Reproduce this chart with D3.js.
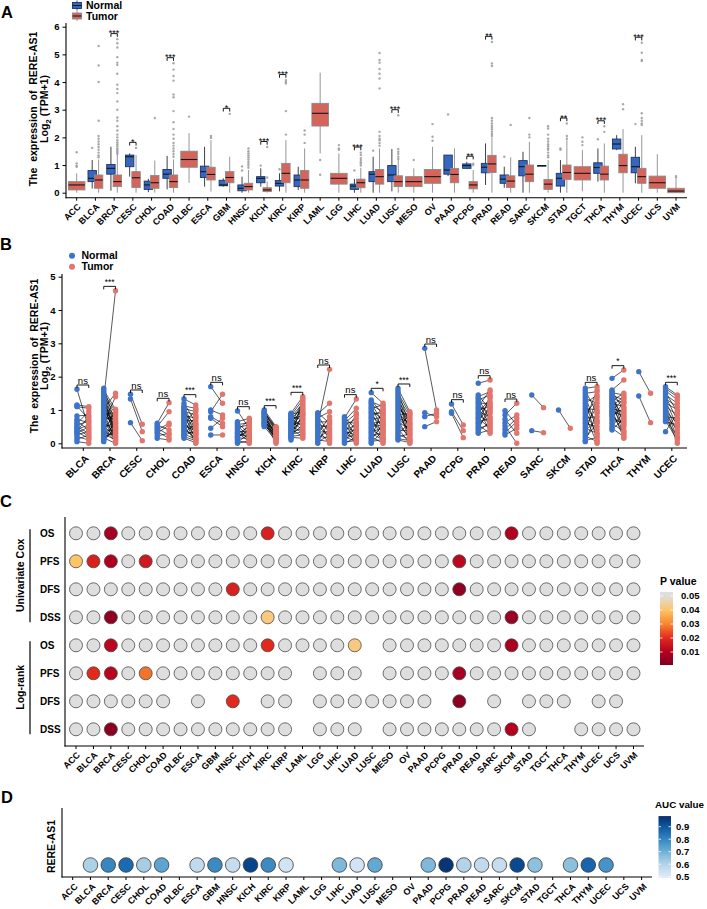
<!DOCTYPE html>
<html><head><meta charset="utf-8">
<script src="https://cdn.jsdelivr.net/npm/d3@7"></script>
<style>
body{margin:0;background:#fff;}
svg{font-family:"Liberation Sans",Arial,sans-serif;font-weight:bold;}
</style></head><body>
<svg id="chart" width="707" height="909"></svg>
<script>
// ---------------- DATA ----------------
const categoriesA = ["ACC","BLCA","BRCA","CESC","CHOL","COAD","DLBC","ESCA","GBM","HNSC","KICH","KIRC","KIRP","LAML","LGG","LIHC","LUAD","LUSC","MESO","OV","PAAD","PCPG","PRAD","READ","SARC","SKCM","STAD","TGCT","THCA","THYM","UCEC","UCS","UVM"];
// box stats: [whiskerLow, q1, median, q3, whiskerHigh]
const normalBoxA = [null,[0.15,0.40,0.52,0.80,1.18],[0.07,0.67,0.88,1.02,1.66],[0.58,0.94,1.30,1.36,1.42],[0.02,0.12,0.28,0.42,0.50],[0.12,0.52,0.67,0.84,1.33],null,[0.22,0.55,0.76,0.96,1.66],[0.22,0.25,0.28,0.45,0.52],[0.00,0.07,0.16,0.28,0.58],[0.22,0.36,0.52,0.58,0.88],[0.05,0.24,0.34,0.44,0.70],[0.10,0.22,0.46,0.64,0.94],null,null,[0.00,0.12,0.24,0.31,0.50],[0.00,0.40,0.67,0.76,1.30],[0.05,0.40,0.64,0.98,1.58],null,null,[0.60,0.67,0.82,1.36,1.36],[0.88,0.88,0.98,1.04,1.12],[0.28,0.72,0.92,1.06,1.78],[0.18,0.34,0.49,0.64,0.94],[0.00,0.61,0.94,1.16,1.48],[0.98,0.98,0.98,0.98,0.98],[0.00,0.24,0.52,0.70,1.18],null,[0.40,0.70,0.91,1.08,1.60],[1.54,1.58,1.76,1.94,2.08],[0.34,0.72,0.94,1.28,1.66],null,null];
const tumorBoxA = [[0,0.10,0.28,0.40,0.70],[0,0.16,0.46,0.64,1.20],[0,0.22,0.40,0.64,1.36],[0,0.19,0.54,0.76,1.36],[0,0.16,0.36,0.62,1.16],[0,0.19,0.40,0.64,1.20],[0.36,0.92,1.20,1.50,2.15],[0.04,0.46,0.66,0.92,1.90],[0,0.36,0.55,0.76,1.30],[0,0.10,0.22,0.34,0.82],[0,0.04,0.10,0.18,0.40],[0,0.36,0.70,1.06,1.90],[0,0.16,0.46,0.80,1.60],[1.42,2.41,2.87,3.23,4.34],[0,0.31,0.52,0.70,1.42],[0,0.18,0.36,0.49,0.90],[0,0.31,0.58,0.84,1.60],[0,0.22,0.40,0.61,1.18],[0,0.22,0.40,0.58,0.88],[0,0.34,0.58,0.84,1.66],[0,0.36,0.66,0.88,1.60],[0,0.14,0.28,0.40,0.82],[0,0.73,1.04,1.35,2.00],[0,0.19,0.42,0.61,1.28],[0,0.40,0.67,1.00,1.84],[0,0.12,0.31,0.48,1.18],[0,0.48,0.73,1.00,1.90],[0.05,0.46,0.70,0.94,1.54],[0,0.46,0.67,0.96,1.78],[0,0.72,0.98,1.39,2.30],[0,0.34,0.58,0.88,2.08],[0,0.16,0.36,0.60,1.39],[0,0.00,0.06,0.16,0.50]];
const normalOutA = [[],[1.62],[],[],[],[],[],[],[],[0.95,0.80],[0.98],[0.85],[],[],[],[0.80],[1.52],[],[],[],[2.83],[],[],[1.30],[],[],[1.60,1.55],[],[1.93],[],[2.48],[],[]];
const tumorOutA = [[1.46,1.06,0.98,0.94],[5.30,4.60,4.00,2.60,2.05,1.95,1.85,1.75,1.65,1.55,1.45,1.35,1.28],[5.55,5.40,5.25,4.90,4.70,4.62,4.30,3.90,3.75,3.60,3.30,3.00,2.72,2.60,2.40,2.25,2.10,2.00,1.90,1.82,1.75,1.68,1.60,1.55,1.50,1.45,1.40],[1.62],[2.70],[4.68,4.45,4.22,4.05,3.55,3.45,2.95,2.55,2.30,2.10,1.95,1.80,1.70,1.60,1.50,1.40,1.30],[2.75],[2.05,1.98],[2.85],[1.60,1.50,1.42,1.35,1.28,1.20,1.12,1.05,0.98,0.90],[1.65,0.55],[4.07,4.00,3.95,2.95,2.10],[2.25,2.10,1.80],[1.18,0.65],[1.72,1.60,1.55],[1.45,1.36,1.25,1.18,1.10,1.05,0.98],[5.05,4.80,4.70,4.47,4.30,4.13,3.77,2.20,2.05,1.95,1.90,1.80,1.70],[2.80,1.58,1.48,1.40,1.30,1.22],[1.18],[2.48,2.02,1.88],[],[1.05,1.00],[5.45,4.67,4.58,2.70,2.60,2.50,2.42,2.35,2.28,2.20,2.12,2.05],[2.45],[2.70,2.10,2.00],[2.40,2.32,2.10,1.95,1.85,1.75,1.68,1.60,1.55,1.45,1.35,1.28],[2.50,2.05,1.95],[2.00,1.84,1.72],[2.40,2.20],[3.20,3.02],[5.42,5.06,4.80,4.76,2.87,2.70,2.60,2.50,2.45],[],[0.60,0.55]];
const sigA = ["","","***","*","","***","","","*","","***","***","","","","***","","***","","","","**","**","","","","**","","***","","***","",""];
const yTicksA = [0,1,2,3,4,5,6];

const categoriesB = ["BLCA","BRCA","CESC","CHOL","COAD","ESCA","HNSC","KICH","KIRC","KIRP","LIHC","LUAD","LUSC","PAAD","PCPG","PRAD","READ","SARC","SKCM","STAD","THCA","THYM","UCEC"];
const pairedNormalB = [
 [1.62,1.15,1.12,1.10,0.82,0.72,0.66,0.60,0.55,0.50,0.46,0.42,0.38,0.34,0.30,0.26,0.20,0.12,0.05],
 [1.65,1.60,1.55,1.50,1.45,1.40,1.36,1.32,1.28,1.24,1.20,1.16,1.12,1.08,1.04,1.00,0.96,0.92,0.88,0.84,0.80,0.76,0.72,0.68,0.64,0.60,0.56,0.52,0.48,0.44,0.40,0.36,0.32,0.28,0.24,0.20,0.16,0.12,0.08,0.05],
 [1.47,1.33,0.62],
 [0.60,0.55,0.50,0.45,0.40,0.35,0.30,0.22,0.15],
 [1.33,1.20,1.12,1.08,1.04,1.00,0.96,0.92,0.88,0.84,0.80,0.76,0.72,0.68,0.64,0.60,0.56,0.52,0.48,0.44,0.40,0.36,0.32,0.28,0.24,0.20,0.15],
 [1.70,1.00,0.95,0.80,0.75,0.45,0.25],
 [0.97,0.65,0.60,0.56,0.52,0.48,0.44,0.40,0.36,0.32,0.28,0.24,0.20,0.16,0.12,0.08,0.04,0.00,0.30,0.18],
 [1.00,0.97,0.94,0.91,0.88,0.85,0.82,0.79,0.76,0.73,0.70,0.67,0.64,0.61,0.58,0.55,0.52,0.50,0.90,0.80,0.60],
 [0.90,0.87,0.84,0.81,0.78,0.75,0.72,0.69,0.66,0.63,0.60,0.57,0.54,0.51,0.48,0.45,0.42,0.39,0.36,0.33,0.30,0.27,0.24,0.21,0.18,0.15,0.10],
 [0.55,0.92,0.88,0.82,0.76,0.70,0.64,0.58,0.52,0.46,0.40,0.34,0.28,0.22,0.16,0.10,0.04,0.00],
 [0.80,0.76,0.72,0.68,0.64,0.60,0.56,0.52,0.48,0.44,0.40,0.36,0.32,0.28,0.24,0.20,0.16,0.12,0.08,0.04,0.00],
 [1.52,1.30,1.25,1.20,1.15,1.10,1.05,1.00,0.95,0.90,0.85,0.80,0.75,0.70,0.65,0.60,0.55,0.50,0.45,0.40,0.35,0.30,0.25,0.20,0.15,0.10,0.05,0.00],
 [1.65,1.58,1.52,1.46,1.40,1.34,1.28,1.22,1.16,1.10,1.04,0.98,0.92,0.86,0.80,0.74,0.68,0.62,0.56,0.50,0.44,0.38,0.32,0.26,0.20,0.14,0.10],
 [2.85,0.92,0.80,0.50],
 [1.18,0.95,0.90],
 [1.80,1.45,1.40,1.35,1.30,1.25,1.20,1.15,1.10,1.05,1.00,0.95,0.90,0.85,0.80,0.75,0.70,0.65,0.60,0.55,0.50,0.45,0.40,0.35,0.30],
 [0.98,0.85,0.72,0.62,0.52,0.42,0.32,0.25],
 [1.45,0.38],
 [1.00],
 [1.65,1.58,1.50,1.42,1.35,1.28,1.20,1.12,1.05,0.98,0.90,0.82,0.75,0.68,0.60,0.52,0.45,0.38,0.30,0.22,0.15,0.08,0.05],
 [1.95,1.60,1.56,1.52,1.48,1.44,1.40,1.36,1.32,1.28,1.24,1.20,1.16,1.12,1.08,1.04,1.00,0.96,0.92,0.88,0.84,0.80,0.74,0.68,0.60,0.52,0.45,0.40],
 [2.15,1.42],
 [1.70,1.64,1.58,1.52,1.46,1.40,1.34,1.28,1.22,1.16,1.10,1.04,0.98,0.92,0.86,0.80,0.74,0.68,0.65,0.35]
];
const pairedTumorB = [
 [0.45,1.10,0.72,1.05,0.85,0.62,0.40,0.95,0.66,0.30,0.20,0.55,0.80,0.15,0.50,0.35,0.10,0.25,0.00],
 [0.60,1.02,0.45,0.95,0.30,0.88,0.20,4.58,0.35,0.80,0.12,0.70,0.50,0.25,1.50,0.40,0.65,0.08,0.92,0.55,0.15,0.75,0.02,0.85,0.28,1.40,0.48,0.18,0.62,0.05,0.38,1.00,0.22,0.10,0.58,0.32,0.00,0.42,0.68,0.52],
 [0.57,0.35,0.08],
 [1.22,0.40,0.95,0.25,0.60,0.15,0.55,0.30,0.10],
 [1.15,0.62,1.05,0.40,0.95,0.25,0.85,0.55,0.10,0.75,0.45,0.30,0.00,0.68,0.20,1.00,0.35,0.05,0.50,0.15,0.80,0.28,0.58,0.12,0.38,0.08,0.02],
 [1.20,0.85,1.47,0.60,0.50,0.75,0.25],
 [0.45,0.75,0.30,0.62,0.20,0.55,0.10,0.70,0.35,0.05,0.50,0.25,0.40,0.15,0.60,0.00,0.28,0.08,0.18,0.38],
 [0.50,0.35,0.48,0.20,0.44,0.10,0.40,0.28,0.05,0.38,0.15,0.32,0.00,0.25,0.42,0.18,0.30,0.08,0.46,0.22,0.12],
 [1.40,0.95,1.30,0.70,1.20,0.50,1.10,0.85,0.40,1.00,0.60,1.25,0.30,0.90,0.75,1.15,0.20,0.65,1.05,0.45,0.80,0.35,0.55,0.25,0.15,0.88,1.35],
 [2.22,0.60,1.20,0.30,0.95,0.10,0.65,0.45,0.20,0.55,0.00,0.35,0.80,0.15,0.40,0.05,0.25,0.70],
 [0.40,1.33,0.20,1.05,0.60,0.90,0.10,0.75,0.35,0.00,0.55,0.25,0.85,0.15,0.45,0.05,0.65,0.30,0.50,0.08,0.18],
 [1.20,0.85,1.10,0.60,0.95,0.40,1.15,0.70,0.25,0.90,0.50,1.00,0.15,0.80,0.35,0.65,0.05,0.55,0.75,0.20,0.45,0.10,0.30,0.00,1.05,0.58,0.12,0.38],
 [0.95,0.50,0.88,0.30,0.80,0.15,0.70,0.42,0.60,0.05,0.75,0.25,0.55,0.90,0.35,0.65,0.10,0.45,0.20,0.85,0.00,0.38,0.58,0.12,0.28,0.08,0.02],
 [1.00,0.80,0.90,0.65],
 [0.55,0.38,0.17],
 [1.90,1.00,1.55,0.70,1.45,0.50,1.20,0.90,1.60,0.35,1.10,0.80,1.35,0.60,1.25,0.45,1.05,0.75,1.40,0.30,0.95,0.55,1.15,0.65,0.40],
 [0.55,1.20,0.30,0.85,0.00,0.75,0.65,0.45],
 [1.07,0.32],
 [0.45],
 [1.70,0.90,1.55,0.40,1.20,0.10,1.45,0.65,1.00,0.25,1.30,0.00,0.80,1.60,0.50,1.10,0.30,0.70,1.38,0.05,0.60,0.18,0.95],
 [2.20,1.90,1.00,1.45,0.60,1.30,0.40,1.20,0.80,1.50,0.25,1.10,0.70,1.40,0.50,0.95,0.15,1.35,0.85,0.30,1.05,0.55,1.25,0.65,0.35,0.90,0.20,0.75],
 [1.50,0.62],
 [1.45,1.40,1.30,0.95,1.20,0.70,1.10,0.50,1.00,0.30,0.85,0.15,0.60,0.00,0.40,0.75,0.20,0.10,0.55,0.90]
];
const sigB = ["ns","***","ns","ns","***","ns","ns","***","***","ns","ns","*","***","ns","ns","ns","ns","","","ns","*","","***"];
const yTicksB = [0,1,2,3,4,5];

// Panel C: p values (1 = not significant, shown grey; null = not available)
const survivalRowLabels = ["OS","PFS","DFS","DSS","OS","PFS","DFS","DSS"];
const survivalGroups = ["Univariate Cox","Log-rank"];
const coxOS  = [1,1,0.008,1,1,1,1,1,1,1,1,0.018,1,1,1,1,1,1,1,1,1,1,1,1,1,0.010,1,1,1,1,1,1,1];
const coxPFS = [0.040,0.018,0.009,1,0.016,1,1,1,1,1,1,1,1,1,1,1,1,1,1,1,1,1,0.012,1,1,1,1,1,1,1,1,1,1];
const coxDFS = [1,1,1,1,1,1,1,1,1,0.018,1,1,1,1,1,1,1,1,1,1,1,1,0.004,1,1,1,1,1,1,1,1,1,1];
const coxDSS = [1,1,0.004,1,1,1,1,1,1,1,1,0.042,1,1,1,1,1,1,1,1,1,1,1,1,1,0.006,1,1,1,1,1,1,1];
const lrOS   = [1,1,0.012,1,1,1,1,1,1,1,1,0.020,1,1,1,1,0.042,null,1,1,1,1,1,1,1,0.009,1,1,1,1,1,1,1];
const lrPFS  = [1,0.020,0.011,1,0.028,1,1,1,1,1,1,1,1,null,1,1,1,null,1,1,1,1,0.008,1,1,1,1,1,1,1,1,1,1];
const lrDFS  = [1,1,1,1,1,1,null,1,null,0.020,null,1,1,null,1,1,1,1,1,1,1,null,0.003,null,1,null,1,1,1,null,1,1,null];
const lrDSS  = [1,1,0.003,1,1,1,1,1,1,1,1,1,1,null,1,1,1,null,1,1,1,1,1,1,1,0.010,1,null,null,1,1,1,1];
const pLegendTicks = [0.05,0.04,0.03,0.02,0.01];

// Panel D: AUC values (null = not available)
const aucValues = [null,0.61,0.80,0.86,0.62,0.73,null,0.57,0.79,0.56,0.94,0.79,0.53,null,null,0.68,0.53,0.72,null,null,0.68,0.97,0.60,0.57,0.56,0.93,0.66,null,0.66,0.87,0.77,null,null];
const aucLegendTicks = [0.5,0.6,0.7,0.8,0.9];

// ---------------- STYLE ----------------
const blueBox = "#3567BE", redBox = "#D5645B";
const blueDot = "#3D74C9", redDot = "#E2756C";
const svg = d3.select("#chart");

function styleAxis(g, fs){
  g.select(".domain").remove();
  g.selectAll(".tick line").attr("stroke","#000").attr("stroke-width",1);
  g.selectAll("text").attr("fill","#000").style("font-size",fs+"px").style("font-weight","bold").style("font-family","Liberation Sans, Arial, sans-serif");
}
function rotateLabels(g, dx, dy){
  g.selectAll(".tick text").attr("x",0).attr("y",0).attr("dy","0.72em")
    .attr("text-anchor","end").attr("transform",`translate(${dx},${dy}) rotate(-45)`);
}
function panelLabel(t,x,y){
  svg.append("text").attr("x",x).attr("y",y).text(t).style("font-size","16.5px").style("font-weight","bold");
}

// ---------------- PANEL A ----------------
panelLabel("A",1,17.5);
const xA = d3.scaleBand().domain(categoriesA).range([67.3,685.4]);
const yA = d3.scaleLinear().domain([0,6]).range([192.7,26.7]);
const axYA = svg.append("g").attr("transform","translate(66,0)").call(d3.axisLeft(yA).tickValues(yTicksA).tickFormat(d3.format("d")).tickSize(3.5).tickPadding(3));
styleAxis(axYA,9.5);
const axXA = svg.append("g").attr("transform","translate(0,197.7)").call(d3.axisBottom(xA).tickSize(3).tickSizeOuter(0));
styleAxis(axXA,9);
rotateLabels(axXA,0,5);
svg.append("line").attr("x1",66).attr("x2",66).attr("y1",23).attr("y2",198.2).attr("stroke","#000").attr("stroke-width",1.1);
svg.append("line").attr("x1",65.5).attr("x2",687).attr("y1",197.7).attr("y2",197.7).attr("stroke","#000").attr("stroke-width",1.1);

const gA = svg.append("g");
function drawBox(cx,w,s,outs,fill,stroke,wcol){
  if(s){
    gA.append("line").attr("x1",cx).attr("x2",cx).attr("y1",yA(s[0])).attr("y2",yA(s[4])).attr("stroke",wcol).attr("stroke-width",0.9);
    gA.append("rect").attr("x",cx-w/2).attr("y",yA(s[3])).attr("width",w).attr("height",Math.max(yA(s[1])-yA(s[3]),0.6))
      .attr("fill",fill).attr("stroke",stroke).attr("stroke-width",0.9);
    gA.append("line").attr("x1",cx-w/2).attr("x2",cx+w/2).attr("y1",yA(s[2])).attr("y2",yA(s[2])).attr("stroke","#151515").attr("stroke-width",1.1);
  }
  gA.selectAll(null).data(outs).enter().append("circle").attr("cx",cx).attr("cy",d=>yA(d)).attr("r",1.2)
    .attr("fill","#9a9a9a").attr("fill-opacity",0.85);
}
categoriesA.forEach((c,i)=>{
  const cx = xA(c)+xA.bandwidth()/2;
  const nb = normalBoxA[i], tb = tumorBoxA[i];
  if(nb){
    drawBox(cx-3.2,8.4,nb,normalOutA[i],blueBox,"#1d3366","#2a2a2a");
    drawBox(cx+3.2,8.4,tb,tumorOutA[i],redBox,"#8a8a8a","#8a8a8a");
  } else {
    drawBox(cx,16.5,tb,tumorOutA[i],redBox,"#8a8a8a","#8a8a8a");
  }
  if(sigA[i]){
    const all = [].concat(nb||[],tb||[],normalOutA[i],tumorOutA[i]);
    const yb = yA(d3.max(all)+0.2);
    gA.append("path").attr("d",`M${cx-3.2},${yb+3.2}V${yb}H${cx+3.2}V${yb+3.2}`).attr("fill","none").attr("stroke","#000").attr("stroke-width",0.9);
    gA.append("text").attr("x",cx).attr("y",yb+2.5).attr("text-anchor","middle").text(sigA[i]).style("font-size","9px").style("font-weight","normal");
  }
});
// legend A
[["Normal",blueBox,"#1d3366",5.5],["Tumor",redBox,"#8a8a8a",16]].forEach(([lab,f,s,y])=>{
  svg.append("line").attr("x1",77).attr("x2",77).attr("y1",y-5).attr("y2",y+5).attr("stroke",s).attr("stroke-width",0.9);
  svg.append("rect").attr("x",72.5).attr("y",y-3).attr("width",9).attr("height",6).attr("fill",f).attr("stroke",s).attr("stroke-width",0.9);
  svg.append("line").attr("x1",72.5).attr("x2",81.5).attr("y1",y).attr("y2",y).attr("stroke","#151515").attr("stroke-width",1);
  svg.append("text").attr("x",86).attr("y",y).attr("dy","0.36em").text(lab).style("font-size","10.5px");
});
function yTitle(x1,x2,cy){
  svg.append("text").attr("transform",`translate(${x1},${cy}) rotate(-90)`).attr("text-anchor","middle")
    .text("The  expression  of  RERE-AS1").style("font-size","10.5px").style("white-space","pre");
  const t = svg.append("text").attr("transform",`translate(${x2},${cy}) rotate(-90)`).attr("text-anchor","middle").style("font-size","10.5px");
  t.append("tspan").text("Log");
  t.append("tspan").text("2").attr("dy",3).style("font-size","8px");
  t.append("tspan").text(" (TPM+1)").attr("dy",-3);
}
yTitle(37,48,109);

// ---------------- PANEL B ----------------
panelLabel("B",0,250);
const xB = d3.scaleBand().domain(categoriesB).range([69.9,685.2]);
const yB = d3.scaleLinear().domain([0,5]).range([443.3,276.7]);
const axYB = svg.append("g").attr("transform","translate(62,0)").call(d3.axisLeft(yB).tickValues(yTicksB).tickFormat(d3.format("d")).tickSize(3.5).tickPadding(3));
styleAxis(axYB,9.5);
const axXB = svg.append("g").attr("transform","translate(0,448)").call(d3.axisBottom(xB).tickSize(3).tickSizeOuter(0));
styleAxis(axXB,10);
rotateLabels(axXB,1,6);
svg.append("line").attr("x1",62).attr("x2",62).attr("y1",274).attr("y2",448.5).attr("stroke","#000").attr("stroke-width",1.1);
svg.append("line").attr("x1",61.5).attr("x2",687).attr("y1",448).attr("y2",448).attr("stroke","#000").attr("stroke-width",1.1);
const gB = svg.append("g");
categoriesB.forEach((c,i)=>{
  const cx = xB(c)+xB.bandwidth()/2;
  const xn = cx-6.3, xt = cx+5.5;
  const N = pairedNormalB[i], T = pairedTumorB[i];
  const n = Math.min(N.length,T.length);
  for(let k=0;k<n;k++){
    gB.append("line").attr("x1",xn).attr("x2",xt).attr("y1",yB(N[k])).attr("y2",yB(T[k])).attr("stroke","#000").attr("stroke-width",0.65);
  }
  gB.selectAll(null).data(N).enter().append("circle").attr("cx",xn).attr("cy",d=>yB(d)).attr("r",2.7).attr("fill",blueDot);
  gB.selectAll(null).data(T).enter().append("circle").attr("cx",xt).attr("cy",d=>yB(d)).attr("r",2.7).attr("fill",redDot);
  if(sigB[i]){
    const yb = yB(d3.max(N.concat(T))+0.13);
    gB.append("path").attr("d",`M${xn},${yb+3}V${yb}H${xt}V${yb+3}`).attr("fill","none").attr("stroke","#000").attr("stroke-width",0.9);
    gB.append("text").attr("x",(xn+xt)/2).attr("y",yb-1.2).attr("text-anchor","middle").text(sigB[i])
      .style("font-size",sigB[i]==="ns"?"9.5px":"8.5px").style("font-weight","normal");
  }
});
[["Normal",blueDot,255.7],["Tumor",redDot,266.7]].forEach(([lab,f,y])=>{
  svg.append("circle").attr("cx",72).attr("cy",y).attr("r",3).attr("fill",f);
  svg.append("text").attr("x",81.5).attr("y",y).attr("dy","0.36em").text(lab).style("font-size","10.5px");
});
yTitle(38,48,356);

// ---------------- PANEL C ----------------
panelLabel("C",0,507);
const rowsC = [coxOS,coxPFS,coxDFS,coxDSS,lrOS,lrPFS,lrDFS,lrDSS];
const xC = d3.scaleBand().domain(categoriesA).range([67.3,642.2]);
const yC = d3.scaleBand().domain(d3.range(8)).range([519.3,743.3]);
const pColor = d3.scaleLinear().domain([0,0.01,0.02,0.03,0.04,0.05]).range(["#7a0022","#b3001f","#e1291e","#f7862f","#fec466","#dedede"]).clamp(true);
const axXC = svg.append("g").attr("transform","translate(0,746)").call(d3.axisBottom(xC).tickSize(3).tickSizeOuter(0));
styleAxis(axXC,9);
rotateLabels(axXC,0,5);
svg.append("line").attr("x1",65).attr("x2",65).attr("y1",517).attr("y2",746.5).attr("stroke","#000").attr("stroke-width",1.1);
svg.append("line").attr("x1",64.5).attr("x2",644).attr("y1",746).attr("y2",746).attr("stroke","#000").attr("stroke-width",1.1);
const gC = svg.append("g");
rowsC.forEach((row,r)=>{
  const cy = yC(r)+yC.bandwidth()/2;
  svg.append("text").attr("x",40).attr("y",cy).attr("dy","0.36em").text(survivalRowLabels[r]).style("font-size","10px");
  row.forEach((p,i)=>{
    if(p===null) return;
    gC.append("circle").attr("cx",xC(categoriesA[i])+xC.bandwidth()/2).attr("cy",cy).attr("r",6.5)
      .attr("fill",p>=0.05?"#dedede":pColor(p)).attr("stroke","#4a4a4a").attr("stroke-width",0.8);
  });
});
survivalGroups.forEach((g,k)=>{
  const y0 = yC(k*4)+yC.bandwidth()/2, y1 = yC(k*4+3)+yC.bandwidth()/2;
  svg.append("line").attr("x1",30).attr("x2",30).attr("y1",y0-4).attr("y2",y1+5).attr("stroke","#000").attr("stroke-width",1.2);
  svg.append("text").attr("transform",`translate(23.5,${(y0+y1)/2}) rotate(-90)`).attr("text-anchor","middle").text(g).style("font-size","10.5px");
});
// P legend
const defs = svg.append("defs");
const pTop = 0.0529, pBot = 0.0007;
const pY = d3.scaleLinear().domain([0.05,0.01]).range([596,652]);
const gradP = defs.append("linearGradient").attr("id","gp").attr("x1",0).attr("x2",0).attr("y1",0).attr("y2",1);
d3.range(0,1.0001,0.05).forEach(o=>{
  const p = pTop - o*(pTop-pBot);
  gradP.append("stop").attr("offset",o).attr("stop-color",pColor(p));
});
svg.append("text").attr("x",660).attr("y",585).text("P value").style("font-size","10.5px");
svg.append("rect").attr("x",660).attr("y",pY(pTop)).attr("width",13).attr("height",pY(pBot)-pY(pTop)).attr("fill","url(#gp)");
pLegendTicks.forEach(t=>{
  const y = pY(t);
  svg.append("line").attr("x1",660).attr("x2",662.5).attr("y1",y).attr("y2",y).attr("stroke","#fff").attr("stroke-width",0.8);
  svg.append("line").attr("x1",670.5).attr("x2",673).attr("y1",y).attr("y2",y).attr("stroke","#fff").attr("stroke-width",0.8);
  svg.append("text").attr("x",681).attr("y",y).attr("dy","0.36em").text(d3.format(".2f")(t)).style("font-size","9.5px");
});

// ---------------- PANEL D ----------------
panelLabel("D",1,803);
const xD = d3.scaleBand().domain(categoriesA).range([63.8,650.5]);
const aucColor = v => d3.interpolateBlues(Math.max(0,Math.min(1,0.13+(v-0.5)*1.8)));
const axXD = svg.append("g").attr("transform","translate(0,877)").call(d3.axisBottom(xD).tickSize(3).tickSizeOuter(0));
styleAxis(axXD,9);
rotateLabels(axXD,1,5.5);
svg.append("line").attr("x1",62).attr("x2",62).attr("y1",808).attr("y2",877.5).attr("stroke","#000").attr("stroke-width",1.1);
svg.append("line").attr("x1",61.5).attr("x2",652).attr("y1",877).attr("y2",877).attr("stroke","#000").attr("stroke-width",1.1);
svg.append("text").attr("transform","translate(54.5,846.5) rotate(-90)").attr("text-anchor","middle").text("RERE-AS1").style("font-size","10.5px");
const gD = svg.append("g");
aucValues.forEach((v,i)=>{
  if(v===null) return;
  gD.append("circle").attr("cx",xD(categoriesA[i])+xD.bandwidth()/2).attr("cy",865).attr("r",7.3)
    .attr("fill",aucColor(v)).attr("stroke","#3a3a3a").attr("stroke-width",0.8);
});
const aY = d3.scaleLinear().domain([0.5,0.9]).range([876.7,826.7]);
const aTop = 0.985, aBot = 0.49;
const gradA = defs.append("linearGradient").attr("id","ga").attr("x1",0).attr("x2",0).attr("y1",0).attr("y2",1);
d3.range(0,1.0001,0.05).forEach(o=>{
  gradA.append("stop").attr("offset",o).attr("stop-color",aucColor(aTop-o*(aTop-aBot)));
});
svg.append("text").attr("x",655).attr("y",808).text("AUC value").style("font-size","9.8px");
svg.append("rect").attr("x",658.5).attr("y",aY(aTop)).attr("width",12.5).attr("height",aY(aBot)-aY(aTop)).attr("fill","url(#ga)");
aucLegendTicks.forEach(t=>{
  const y = aY(t);
  svg.append("line").attr("x1",658.5).attr("x2",661).attr("y1",y).attr("y2",y).attr("stroke","#fff").attr("stroke-width",0.8);
  svg.append("line").attr("x1",668.5).attr("x2",671).attr("y1",y).attr("y2",y).attr("stroke","#fff").attr("stroke-width",0.8);
  svg.append("text").attr("x",676).attr("y",y).attr("dy","0.36em").text(d3.format(".1f")(t)).style("font-size","9.5px");
});
</script>
</body></html>
